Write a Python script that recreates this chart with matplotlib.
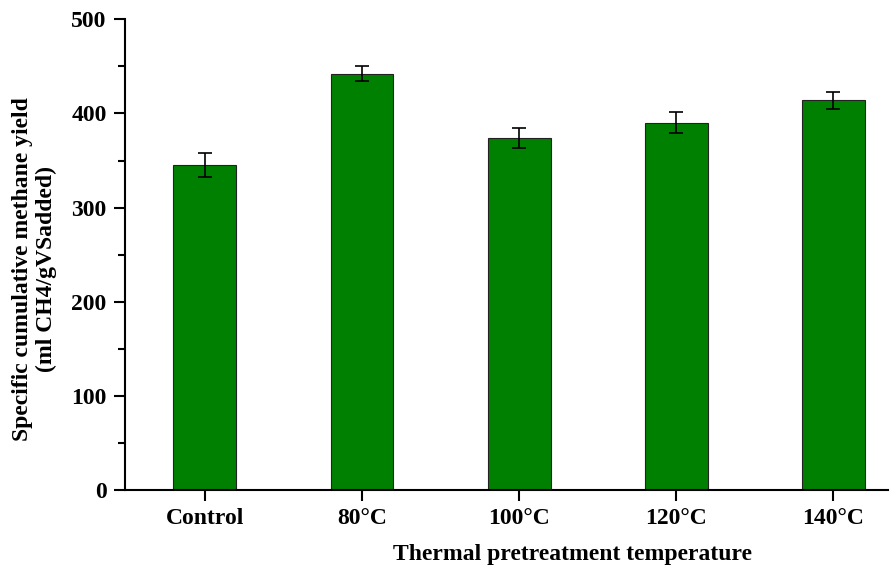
import numpy as np
import matplotlib.pyplot as plt
from matplotlib.ticker import MultipleLocator

categories = ['Control', '80°C', '100°C', '120°C', '140°C']
yield_vals = [345, 442, 374, 390, 414]
yield_err = [13, 8, 11, 11, 9]

plt.rcParams['font.family'] = 'Liberation Serif'
plt.rcParams['font.weight'] = 'bold'

fig = plt.figure(figsize=(8.91, 5.66), dpi=100)
ax = fig.add_axes([0.140, 0.134, 0.857, 0.832])

x = np.arange(len(categories))
ax.bar(x, yield_vals, width=0.4, color='#008000', edgecolor='#222222', linewidth=0.8,
       yerr=yield_err, capsize=5, error_kw=dict(ecolor='black', elinewidth=1.2, capthick=1.2))

ax.set_xlim(-0.51, 4.35)
ax.set_ylim(0, 500)
ax.set_xticks(x)
ax.set_xticklabels(categories, fontsize=17, fontweight='bold')
ax.yaxis.set_major_locator(MultipleLocator(100))
ax.yaxis.set_minor_locator(MultipleLocator(50))
for lab in ax.get_yticklabels():
    lab.set_fontsize(17)
    lab.set_fontweight('bold')

ax.tick_params(axis='both', which='major', direction='out', length=8, width=1.5, pad=5)
ax.tick_params(axis='y', which='minor', direction='out', length=5, width=1.5)
ax.spines['top'].set_visible(False)
ax.spines['right'].set_visible(False)
ax.spines['left'].set_linewidth(1.5)
ax.spines['bottom'].set_linewidth(1.5)

ax.set_xlabel('Thermal pretreatment temperature', fontsize=17, fontweight='bold', labelpad=8)
ax.set_ylabel('Specific cumulative methane yield\n(ml CH4/gVSadded)', fontsize=17,
              fontweight='bold', labelpad=10)
ax.xaxis.set_label_coords(0.587, -0.115)
ax.yaxis.label.set_y(0.47)

plt.savefig('out.png', dpi=100)
